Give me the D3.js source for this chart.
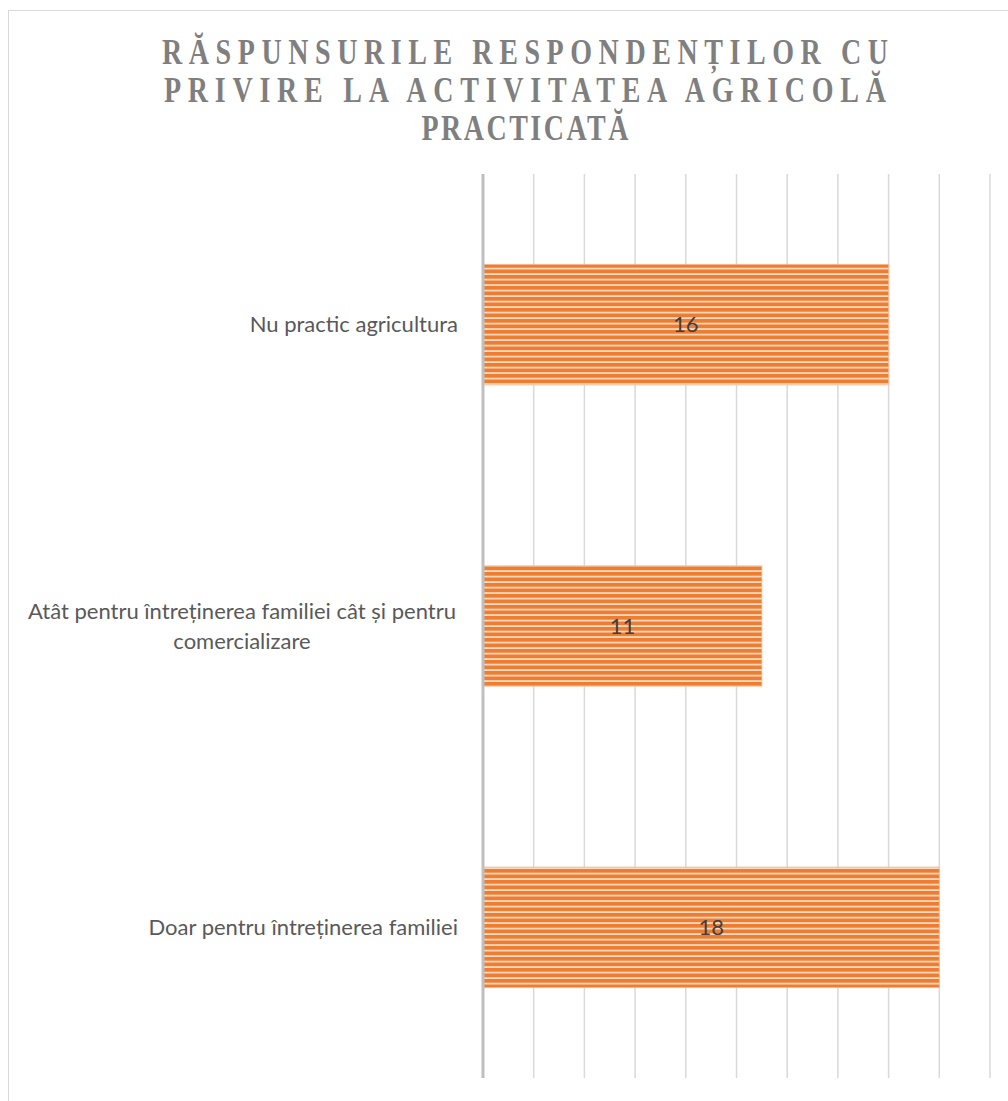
<!DOCTYPE html>
<html>
<meta charset="utf-8">
<style>
  body { margin: 0; background: #fff; }
  .cat { font-family: Lato, "Open Sans", sans-serif; fill: #595959; }
  .val { font-family: Lato, "Open Sans", sans-serif; fill: #404040; }
  .title { font-family: "Liberation Serif", "DejaVu Serif", serif; font-weight: bold; fill: #7f7f7f; }
</style>
<body>
<script src="https://d3js.org/d3.v7.min.js"></script>
<script>
  // data
  let categories = ["Nu practic agricultura",
                    "Atât pentru întreținerea familiei cât și pentru comercializare",
                    "Doar pentru întreținerea familiei"];
  let catLines = [["Nu practic agricultura"],
                  ["Atât pentru întreținerea familiei cât și pentru", "comercializare"],
                  ["Doar pentru întreținerea familiei"]];
  let values = [16, 11, 18];
  let xTicks = [0, 2, 4, 6, 8, 10, 12, 14, 16, 18, 20];
  let titleLines = ["RĂSPUNSURILE RESPONDENȚILOR CU", "PRIVIRE LA ACTIVITATEA AGRICOLĂ", "PRACTICATĂ"];

  const W = 1008, H = 1101;
  const svg = d3.select("body").append("svg").attr("width", W).attr("height", H);

  // chart border (runs off the right and bottom of the picture)
  svg.append("rect")
    .attr("x", 8.5).attr("y", 10.5)
    .attr("width", 1100).attr("height", 1200)
    .attr("fill", "white").attr("stroke", "#d9d9d9").attr("stroke-width", 1);

  // title: condensed glyphs with wide letter spacing
  const titleWidths = [726, 722, 207];
  const squeeze = 0.8;
  svg.append("g")
    .attr("transform", `translate(525,0) scale(${squeeze},1)`)
    .selectAll("text")
    .data(titleLines)
    .join("text")
    .attr("class", "title")
    .attr("x", 0)
    .attr("y", (d, i) => 64 + i * 38)
    .attr("text-anchor", "middle")
    .attr("font-size", 35)
    .attr("textLength", (d, i) => titleWidths[i] / squeeze)
    .attr("lengthAdjust", "spacing")
    .text(d => d);

  // scales
  let x = d3.scaleLinear().domain([0, 20]).range([483, 990]);
  let y = d3.scaleBand().domain(categories).range([174, 1078])
    .paddingInner(0.6).paddingOuter(0.3);

  // gridlines
  svg.append("g").selectAll("line")
    .data(xTicks.slice(1))
    .join("line")
    .attr("x1", d => x(d)).attr("x2", d => x(d))
    .attr("y1", 174).attr("y2", 1078)
    .attr("stroke", "#d9d9d9").attr("stroke-width", 1.5);

  // stripe pattern
  const defs = svg.append("defs");
  const pat = defs.append("pattern")
    .attr("id", "stripes")
    .attr("patternUnits", "userSpaceOnUse")
    .attr("width", 8).attr("height", 5.5);
  pat.append("rect").attr("width", 8).attr("height", 5.5).attr("fill", "#ED7D31");
  pat.append("rect").attr("y", 3.8).attr("width", 8).attr("height", 1.6).attr("fill", "#fde3d1");

  // bars
  svg.append("g").selectAll("rect")
    .data(values)
    .join("rect")
    .attr("x", x(0))
    .attr("y", (d, i) => y(categories[i]))
    .attr("width", d => x(d) - x(0))
    .attr("height", y.bandwidth())
    .attr("fill", "url(#stripes)")
    .attr("stroke", "#f6b890")
    .attr("stroke-opacity", 0.7)
    .attr("stroke-width", 1);

  // value axis line at 0
  svg.append("line")
    .attr("x1", x(0)).attr("x2", x(0))
    .attr("y1", 174).attr("y2", 1078)
    .attr("stroke", "#bfbfbf").attr("stroke-width", 3);

  // value labels
  svg.append("g").selectAll("text")
    .data(values)
    .join("text")
    .attr("class", "val")
    .attr("x", d => (x(0) + x(d)) / 2)
    .attr("y", (d, i) => y(categories[i]) + y.bandwidth() / 2)
    .attr("dy", "0.35em")
    .attr("text-anchor", "middle")
    .attr("font-size", 22)
    .text(d => d);

  // category labels
  const lh = 30;
  const cat = svg.append("g").selectAll("text")
    .data(catLines)
    .join("text")
    .attr("class", "cat")
    .attr("font-size", 22)
    .attr("text-anchor", d => d.length > 1 ? "middle" : "end")
    .attr("x", d => d.length > 1 ? 242 : 458)
    .attr("y", (d, i) => y(categories[i]) + y.bandwidth() / 2 - (d.length - 1) * lh / 2);
  cat.selectAll("tspan")
    .data(d => d)
    .join("tspan")
    .attr("x", function() { return d3.select(this.parentNode).attr("x"); })
    .attr("dy", (d, i) => i === 0 ? "0.35em" : lh)
    .text(d => d);
</script>
</body>
</html>
